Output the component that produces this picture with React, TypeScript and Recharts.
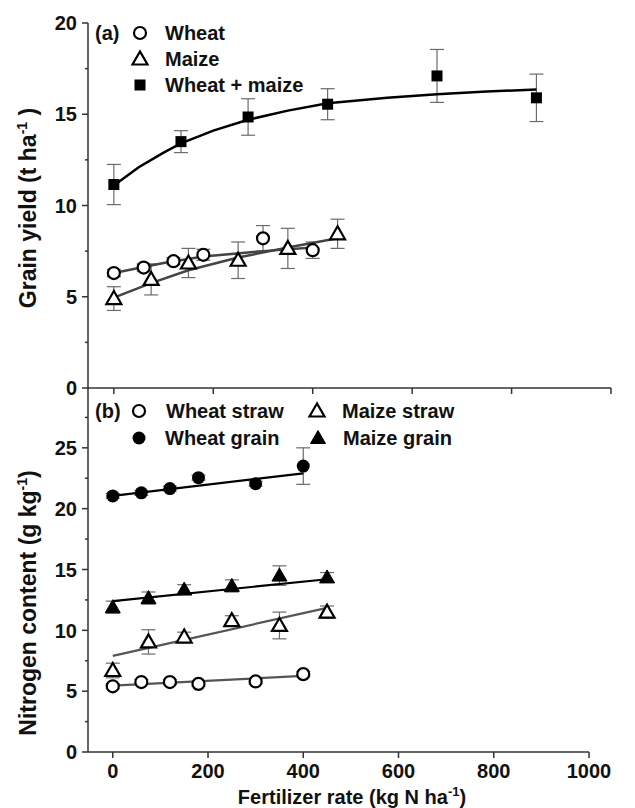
import React from "react";
import { ScatterChart, Scatter, XAxis, YAxis, ErrorBar } from "recharts";

// panel (a): grain yield, t/ha
const wheatRateA = [0, 60, 120, 180, 300, 400];
const wheatYield = [6.3, 6.6, 6.95, 7.3, 8.2, 7.55];
const wheatYieldErr = [0.2, 0.2, 0.2, 0.3, 0.7, 0.45];
const maizeRateA = [0, 75, 150, 250, 350, 450];
const maizeYield = [4.9, 5.95, 6.85, 7.0, 7.65, 8.45];
const maizeYieldErr = [0.65, 0.85, 0.8, 1.0, 1.1, 0.8];
const totalRate = [0, 135, 270, 430, 650, 850];
const totalYield = [11.15, 13.5, 14.85, 15.55, 17.1, 15.9];
const totalYieldErr = [1.1, 0.6, 1.0, 0.85, 1.45, 1.3];

// fitted curves
const totalFitX = [0, 50, 100, 135, 200, 270, 350, 430, 550, 650, 750, 850];
const totalFitY = [11.1, 12.1, 12.9, 13.4, 14.1, 14.7, 15.2, 15.6, 15.9, 16.1, 16.25, 16.35];
const wheatFitX = [0, 100, 180, 300, 400];
const wheatFitY = [6.3, 6.85, 7.2, 7.5, 7.7];
const maizeFitX = [0, 75, 150, 250, 350, 450];
const maizeFitY = [4.95, 5.75, 6.45, 7.15, 7.7, 8.2];

// panel (b): nitrogen content, g/kg
const wheatRateB = [0, 60, 120, 180, 300, 400];
const maizeRateB = [0, 75, 150, 250, 350, 450];
const wheatStrawN = [5.4, 5.75, 5.75, 5.6, 5.8, 6.4];
const wheatStrawErr = [0.2, 0.2, 0.2, 0.2, 0.2, 0.2];
const wheatGrainN = [21.05, 21.3, 21.65, 22.55, 22.05, 23.5];
const wheatGrainErr = [0.2, 0.2, 0.2, 0.2, 0.2, 1.5];
const maizeStrawN = [6.7, 9.05, 9.45, 10.8, 10.4, 11.5];
const maizeStrawErr = [0.6, 1.0, 0.4, 0.4, 1.1, 0.5];
const maizeGrainN = [11.9, 12.65, 13.35, 13.65, 14.5, 14.35];
const maizeGrainErr = [0.5, 0.5, 0.4, 0.5, 0.8, 0.4];

const wheatStrawFit = [5.45, 6.25];
const wheatGrainFit = [21.05, 22.9];
const maizeStrawFit = [7.9, 11.85];
const maizeGrainFit = [12.4, 14.2];
const wheatFitEnds = [0, 400];
const maizeFitEnds = [0, 450];

const xTicks = [0, 200, 400, 600, 800, 1000];
const yTicksA = [0, 2.5, 5, 7.5, 10, 12.5, 15, 17.5, 20];
const yTicksB = [0, 2.5, 5, 7.5, 10, 12.5, 15, 17.5, 20, 22.5, 25, 27.5];

const FONT = '"Liberation Sans", Arial, sans-serif';
const AXIS = "#333";
const ERR = "#6b6b6b";

const zip = (xs: number[], ys: number[], es?: number[]) =>
  xs.map((x, i) => ({ x, y: ys[i], err: es ? es[i] : 0 }));

function OpenCircle({ cx, cy }: any) {
  return <circle cx={cx} cy={cy} r={6} fill="#fff" stroke="#000" strokeWidth={2.2} />;
}
function FilledCircle({ cx, cy }: any) {
  return <circle cx={cx} cy={cy} r={6.5} fill="#000" />;
}
function triPath(cx: number, cy: number) {
  return `M${cx},${cy - 7.5}L${cx - 7.5},${cy + 5.5}L${cx + 7.5},${cy + 5.5}Z`;
}
function OpenTriangle({ cx, cy }: any) {
  return <path d={triPath(cx, cy)} fill="#fff" stroke="#000" strokeWidth={2.2} strokeLinejoin="miter" />;
}
function FilledTriangle({ cx, cy }: any) {
  return <path d={triPath(cx, cy)} fill="#000" stroke="#000" strokeWidth={1} />;
}
function Square({ cx, cy }: any) {
  return <rect x={cx - 5.5} y={cy - 5.5} width={11} height={11} fill="#000" />;
}
const NoDot = () => <g />;

function YTick(props: any) {
  const { x, y, payload } = props;
  const v = payload.value;
  const major = v % 5 === 0;
  const ax = x + 10;
  return (
    <g>
      <line x1={ax - (major ? 6 : 3)} x2={ax} y1={y} y2={y} stroke={AXIS} strokeWidth={1.5} />
      {major && (
        <text x={x - 1} y={y} dy="0.36em" textAnchor="end" fontSize={20} fontWeight="bold" fontFamily={FONT} fill="#111">
          {v}
        </text>
      )}
    </g>
  );
}

function XTick(props: any) {
  const { x, y, payload } = props;
  return (
    <text x={x} y={y} dy="0.85em" textAnchor="middle" fontSize={20} fontWeight="bold" fontFamily={FONT} fill="#111">
      {payload.value}
    </text>
  );
}

export default function App() {
  const line = (c: string, w: number) => ({ stroke: c, strokeWidth: w });
  const txt = { fontFamily: FONT, fontWeight: "bold" as const, fontSize: 20, fill: "#111" };

  return (
    <div style={{ position: "absolute", left: 0, top: 0, width: 635, height: 808, background: "#fff" }}>
      <div style={{ position: "absolute", left: 0, top: 0 }}>
        <ScatterChart width={635} height={400} margin={{ top: 23, right: 24, bottom: 2, left: 0 }}>
          <XAxis
            type="number"
            dataKey="x"
            domain={[-52, 1000]}
            ticks={xTicks}
            allowDataOverflow
            height={10}
            tickSize={6}
            tick={() => <g />}
            tickLine={{ stroke: AXIS, strokeWidth: 1.5 }}
            axisLine={{ stroke: AXIS, strokeWidth: 1.5 }}
          />
          <YAxis
            type="number"
            dataKey="y"
            domain={[0, 20]}
            ticks={yTicksA}
            width={88}
            tickSize={6}
            tickMargin={4}
            tickLine={false}
            tick={<YTick />}
            axisLine={{ stroke: AXIS, strokeWidth: 1.5 }}
          />
          <Scatter data={zip(totalFitX, totalFitY)} line={line("#000", 2.5)} shape={NoDot} isAnimationActive={false} />
          <Scatter data={zip(wheatFitX, wheatFitY)} line={line("#444", 2.5)} shape={NoDot} isAnimationActive={false} />
          <Scatter data={zip(maizeFitX, maizeFitY)} line={line("#444", 2.5)} shape={NoDot} isAnimationActive={false} />
          <Scatter data={zip(wheatRateA, wheatYield, wheatYieldErr)} shape={OpenCircle} isAnimationActive={false}>
            <ErrorBar dataKey="err" direction="y" width={7} stroke={ERR} strokeWidth={1.2} />
          </Scatter>
          <Scatter data={zip(maizeRateA, maizeYield, maizeYieldErr)} shape={OpenTriangle} isAnimationActive={false}>
            <ErrorBar dataKey="err" direction="y" width={7} stroke={ERR} strokeWidth={1.2} />
          </Scatter>
          <Scatter data={zip(totalRate, totalYield, totalYieldErr)} shape={Square} isAnimationActive={false}>
            <ErrorBar dataKey="err" direction="y" width={7} stroke={ERR} strokeWidth={1.2} />
          </Scatter>
        </ScatterChart>
      </div>

      <div style={{ position: "absolute", left: 0, top: 380 }}>
        <ScatterChart width={635} height={412} margin={{ top: 7, right: 46, bottom: 0, left: 0 }}>
          <XAxis
            type="number"
            dataKey="x"
            domain={[-52, 1000]}
            ticks={xTicks}
            allowDataOverflow
            height={40}
            tickSize={6}
            tickMargin={3}
            tick={<XTick />}
            tickLine={{ stroke: AXIS, strokeWidth: 1.5 }}
            axisLine={{ stroke: AXIS, strokeWidth: 1.5 }}
          />
          <YAxis
            type="number"
            dataKey="y"
            domain={[0, 30]}
            ticks={yTicksB}
            width={88}
            tickSize={6}
            tickMargin={4}
            tickLine={false}
            tick={<YTick />}
            axisLine={{ stroke: AXIS, strokeWidth: 1.5 }}
          />
          <Scatter data={zip(wheatFitEnds, wheatGrainFit)} line={line("#000", 2.2)} shape={NoDot} isAnimationActive={false} />
          <Scatter data={zip(maizeFitEnds, maizeGrainFit)} line={line("#000", 2.2)} shape={NoDot} isAnimationActive={false} />
          <Scatter data={zip(maizeFitEnds, maizeStrawFit)} line={line("#555", 2.2)} shape={NoDot} isAnimationActive={false} />
          <Scatter data={zip(wheatFitEnds, wheatStrawFit)} line={line("#555", 2.2)} shape={NoDot} isAnimationActive={false} />
          <Scatter data={zip(wheatRateB, wheatGrainN, wheatGrainErr)} shape={FilledCircle} isAnimationActive={false}>
            <ErrorBar dataKey="err" direction="y" width={7} stroke={ERR} strokeWidth={1.2} />
          </Scatter>
          <Scatter data={zip(maizeRateB, maizeGrainN, maizeGrainErr)} shape={FilledTriangle} isAnimationActive={false}>
            <ErrorBar dataKey="err" direction="y" width={7} stroke={ERR} strokeWidth={1.2} />
          </Scatter>
          <Scatter data={zip(maizeRateB, maizeStrawN, maizeStrawErr)} shape={OpenTriangle} isAnimationActive={false}>
            <ErrorBar dataKey="err" direction="y" width={7} stroke={ERR} strokeWidth={1.2} />
          </Scatter>
          <Scatter data={zip(wheatRateB, wheatStrawN, wheatStrawErr)} shape={OpenCircle} isAnimationActive={false}>
            <ErrorBar dataKey="err" direction="y" width={7} stroke={ERR} strokeWidth={1.2} />
          </Scatter>
        </ScatterChart>
      </div>

      <svg width={635} height={808} style={{ position: "absolute", left: 0, top: 0, pointerEvents: "none" }}>
        {/* axis titles */}
        <text {...txt} fontSize={23} textAnchor="middle" transform="translate(36,208) rotate(-90)">
          Grain yield (t ha<tspan dy={-9} fontSize={14}>-1</tspan>
          <tspan dy={9}> )</tspan>
        </text>
        <text {...txt} fontSize={23} textAnchor="middle" transform="translate(36,603) rotate(-90)">
          Nitrogen content (g kg<tspan dy={-9} fontSize={14}>-1</tspan>
          <tspan dy={9}>)</tspan>
        </text>
        <text {...txt} fontSize={20} textAnchor="middle" x={352} y={804}>
          Fertilizer rate (kg N ha<tspan dy={-8} fontSize={13}>-1</tspan>
          <tspan dy={8}>)</tspan>
        </text>

        {/* legend (a) */}
        <text {...txt} x={95} y={40}>(a)</text>
        <OpenCircle cx={140} cy={33} />
        <text {...txt} x={165} y={40}>Wheat</text>
        <OpenTriangle cx={140} cy={59} />
        <text {...txt} x={165} y={66}>Maize</text>
        <Square cx={140} cy={85} />
        <text {...txt} x={165} y={92}>Wheat + maize</text>

        {/* legend (b) */}
        <text {...txt} x={95} y={418}>(b)</text>
        <OpenCircle cx={139} cy={411} />
        <text {...txt} x={166} y={418}>Wheat straw</text>
        <OpenTriangle cx={317} cy={411} />
        <text {...txt} x={342} y={418}>Maize straw</text>
        <FilledCircle cx={139} cy={438} />
        <text {...txt} x={165} y={445}>Wheat grain</text>
        <FilledTriangle cx={318} cy={438} />
        <text {...txt} x={343} y={445}>Maize grain</text>
      </svg>
    </div>
  );
}
